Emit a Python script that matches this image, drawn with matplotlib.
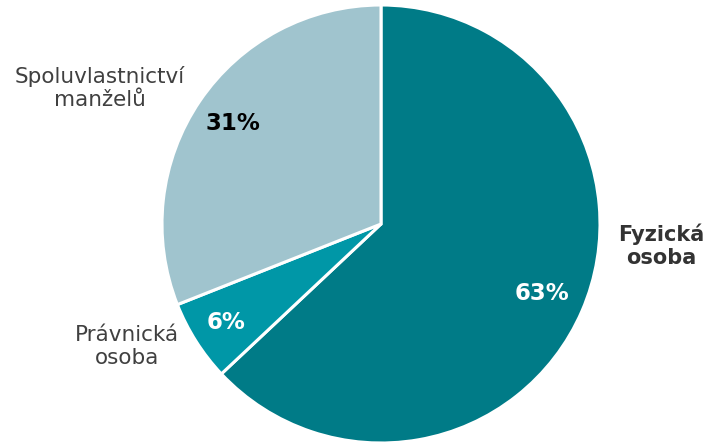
import numpy as np
import matplotlib
matplotlib.use("Agg")
import matplotlib.pyplot as plt

categories = ["Fyzická\nosoba", "Právnická\nosoba", "Spoluvlastnictví\nmanželů"]
values = [63, 6, 31]
colors = ["#007B87", "#0097A7", "#A0C4CE"]
pct_colors = ["white", "white", "black"]
label_bold = [True, False, False]

W, H = 712, 442
fig = plt.figure(figsize=(W / 100, H / 100), dpi=100)
cx, cy, r = 381, 224, 219
ax = fig.add_axes([(cx - r) / W, (H - cy - r) / H, 2 * r / W, 2 * r / H])

wedges, _ = ax.pie(values, colors=colors, startangle=90, counterclock=False,
                   radius=1.0, wedgeprops=dict(edgecolor="white", linewidth=2.2))
ax.set_xlim(-1, 1)
ax.set_ylim(-1, 1)
ax.set_aspect("equal")
ax.axis("off")

total = sum(values)
start = 90.0
pct_r = [0.8, 0.84, 0.82]
lab_pos = [(1.281, -0.10), (-1.158, -0.56), (-1.283, 0.62)]
for i, v in enumerate(values):
    span = 360.0 * v / total
    mid = np.deg2rad(start - span / 2)
    start -= span
    x, y = pct_r[i] * np.cos(mid), pct_r[i] * np.sin(mid)
    ax.text(x, y, f"{v}%", ha="center", va="center", fontsize=16.5,
            fontweight="bold", color=pct_colors[i], clip_on=False)
    lx, ly = lab_pos[i]
    ax.text(lx, ly, categories[i], ha="center", va="center",
            fontsize=15 if label_bold[i] else 15.5,
            fontweight="bold" if label_bold[i] else "normal",
            color="#333333" if label_bold[i] else "#404040",
            linespacing=1.2, clip_on=False)

fig.savefig("out.png", dpi=100)
